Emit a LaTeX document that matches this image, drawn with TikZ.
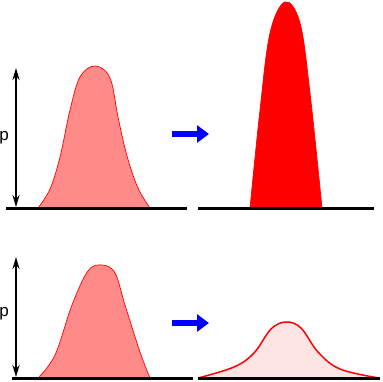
\documentclass[tikz,border=0pt]{standalone}
\usepackage{fontspec}
\setsansfont{Liberation Sans}
\usetikzlibrary{arrows.meta, positioning}
\definecolor{bellfill}{HTML}{FF8A8A}
\definecolor{flatfill}{HTML}{FFE4E4}
\definecolor{arrowblue}{HTML}{0000FF}

\begin{document}
\begin{tikzpicture}[
    x=1pt, y=-1pt,
    groundline/.style={draw, line width=3pt},
    heightarrow/.style={draw, line width=2pt, {Stealth[length=12pt,width=7pt]}-{Stealth[length=12pt,width=7pt]}},
    bell/.style={draw=red, fill=bellfill, line width=0.7pt},
    tallbell/.style={draw=red, fill=red, line width=0.7pt},
    flatbell/.style={draw=red, fill=flatfill, line width=1.5pt},
    movearrow/.style={draw=arrowblue, line width=6pt, -{Triangle[length=12pt,width=17pt]}},
    plabel/.style={font=\sffamily\fontsize{17}{17}\selectfont, inner sep=0pt}
]
\useasboundingbox (0,0) rectangle (382,382);

% top row: before and after
\filldraw[bell] plot[smooth, tension=0.6] coordinates {(38,208) (50,189) (60,157) (70,110) (80,77) (95,66) (110,78) (118,117) (127,156) (138,188) (150,208)};
\filldraw[tallbell] plot[smooth, tension=0.6] coordinates {(250,208) (260,110) (270,33) (285,2) (300,23) (310,93) (322,208)};

% bottom row: before and after
\filldraw[bell] plot[smooth, tension=0.6] coordinates {(38,378) (55,355) (72,305) (88,271) (102,265) (115,273) (125,305) (140,352) (150,378)};
\filldraw[flatbell] plot[smooth, tension=0.6] coordinates {(198,378) (234,367) (254,353) (271,329) (286,322) (301,328) (318,352) (340,369) (379,378)};

% ground lines
\coordinate (gtl1) at (6,208);   \coordinate (gtl2) at (187,208);
\coordinate (gtr1) at (198,208); \coordinate (gtr2) at (374,208);
\coordinate (gbl1) at (12,378);  \coordinate (gbl2) at (193,378);
\coordinate (gbr1) at (198,378); \coordinate (gbr2) at (380,378);
\draw[groundline] (gtl1) -- (gtl2);
\draw[groundline] (gtr1) -- (gtr2);
\draw[groundline] (gbl1) -- (gbl2);
\draw[groundline] (gbr1) -- (gbr2);

% height arrows
\coordinate (htop1) at (16,68);  \coordinate (hbot1) at (16,207);
\coordinate (htop2) at (16,257); \coordinate (hbot2) at (16,377);
\draw[heightarrow] (htop1) -- (hbot1);
\draw[heightarrow] (htop2) -- (hbot2);
\node[plabel] (p1) at (4,138) {p};
\node[plabel] (p2) at (4,314) {p};

% blue arrows
\coordinate (mstart1) at (172,134); \coordinate (mend1) at (209,134);
\coordinate (mstart2) at (172,323); \coordinate (mend2) at (209,323);
\draw[movearrow] (mstart1) -- (mend1);
\draw[movearrow] (mstart2) -- (mend2);
\end{tikzpicture}
\end{document}
